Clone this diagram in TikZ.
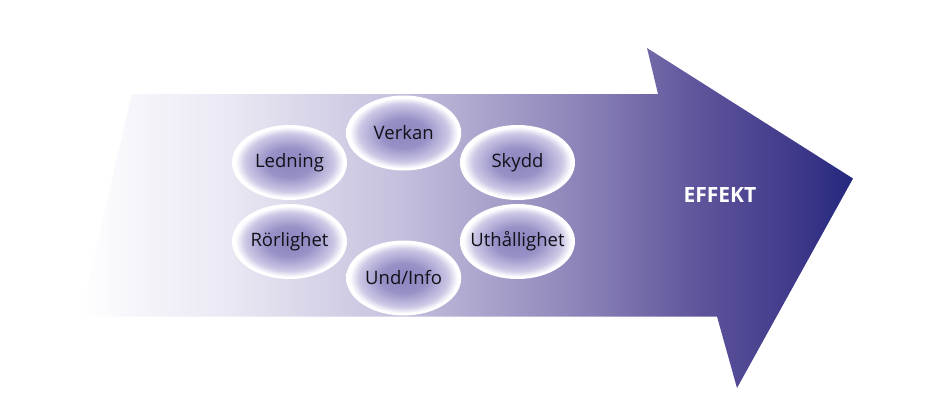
\documentclass[tikz,border=0pt]{standalone}
\usepackage{fontspec}
\setmainfont{Open Sans}
\usetikzlibrary{shapes.geometric}
\definecolor{txt}{HTML}{111118}
\newcommand{\bubtext}[1]{\makebox[0pt][c]{#1}}
\pgfdeclarehorizontalshading{arrowsh}{100bp}{%
  color(0bp)=(white); color(25bp)=(white);
  color(28.2bp)=(rgb,255:red,247;green,246;blue,251);
  color(34.7bp)=(rgb,255:red,234;green,232;blue,243);
  color(45.7bp)=(rgb,255:red,197;green,192;blue,222);
  color(57.3bp)=(rgb,255:red,140;green,132;blue,184);
  color(65.1bp)=(rgb,255:red,93;green,84;blue,155);
  color(71.6bp)=(rgb,255:red,62;green,56;blue,137);
  color(75bp)=(rgb,255:red,35;green,40;blue,126);
  color(100bp)=(rgb,255:red,35;green,40;blue,126)}
\pgfdeclareradialshading{bubble}{\pgfpointorigin}{%
  color(0bp)=(rgb,255:red,140;green,132;blue,190);
  color(10bp)=(rgb,255:red,152;green,145;blue,199);
  color(19.5bp)=(rgb,255:red,205;green,201;blue,230);
  color(23.5bp)=(white);
  color(50bp)=(white)}
\tikzset{
  bub/.style={ellipse, shading=bubble, minimum width=115pt, minimum height=75pt,
    inner sep=0pt, text=txt, font=\fontsize{18.5}{21}\selectfont},
}
\begin{document}
\begin{tikzpicture}[x=1pt,y=-1pt]
\useasboundingbox (0,0) rectangle (927,407);
\shade[shading=arrowsh] (131.7,94) -- (658,94) -- (647,48) -- (853,178.5) -- (737,388) -- (717,316.5) -- (80,316.5) -- cycle;
\node[bub] (verkan) at (403.7,133) {\bubtext{Verkan}};
\node[bub] (ledning) at (289.5,162.5) {\bubtext{Ledning}};
\node[bub] (skydd) at (517.5,162.5) {\bubtext{Skydd}};
\node[bub] (rorlighet) at (289.5,241.5) {\bubtext{Rörlighet}};
\node[bub] (uthallighet) at (517.5,241.5) {\bubtext{Uthållighet}};
\node[bub] (undinfo) at (403.7,278) {\bubtext{Und/Info}};
\node[text=white, font=\bfseries\fontsize{21}{24}\selectfont] (effekt) at (720,195) {EFFEKT};
\end{tikzpicture}
\end{document}
